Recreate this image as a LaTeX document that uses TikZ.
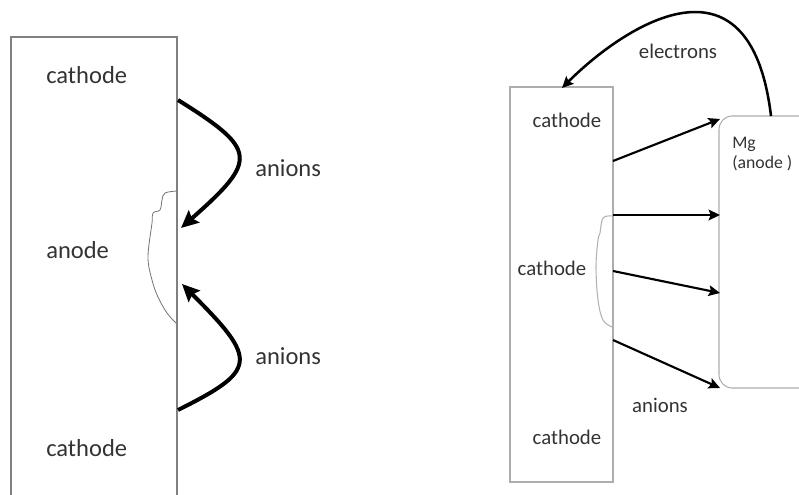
\documentclass[tikz,border=0pt]{standalone}
\usepackage{fontspec}
\setmainfont{Carlito}
\usetikzlibrary{arrows.meta}
\definecolor{txt}{HTML}{333333}
\tikzset{
  lbl/.style={text=txt, inner sep=0pt},
  big/.style={lbl, font=\fontsize{18.4}{22}\selectfont},
  small/.style={lbl, font=\fontsize{15.6}{19}\selectfont},
  tiny/.style={lbl, font=\fontsize{13.3}{16}\selectfont, align=left},
  thickarrow/.style={line width=3pt, -{Stealth[length=13pt, width=12pt, inset=2pt]}},
  thinarrow/.style={line width=1.6pt, -{Stealth[length=8.5pt, width=8pt, inset=1.5pt]}},
  wall/.style={draw=black!50, line width=0.8pt},
  lightwall/.style={draw=black!32, line width=0.8pt},
  pit/.style={draw=black!55, line width=0.6pt},
  lightpit/.style={draw=black!30, line width=0.8pt},
}
\begin{document}
\begin{tikzpicture}[x=0.75pt, y=-0.75pt]
\useasboundingbox (0,0) rectangle (799,495);

% ---- left: single electrode with a pit ----
\draw[wall] (11,495) -- (11,37) -- (177,37) -- (177,495);
\draw[pit] plot[smooth, tension=0.6] coordinates {
  (177,191) (165,193) (162,200) (160,210) (153,213) (152,223)
  (148,257) (152,280) (158,297) (167,313) (176,323)};

\node[big, anchor=west] (c1) at (46,75) {cathode};
\node[big, anchor=west] (an) at (46,250) {anode};
\node[big, anchor=west] (c2) at (46,448) {cathode};
\node[big, anchor=west] (i1) at (255,168) {anions};
\node[big, anchor=west] (i2) at (255,356) {anions};

\coordinate (a1s) at (178,100);
\coordinate (a1e) at (181,228);
\coordinate (a2s) at (178,410);
\coordinate (a2e) at (182,284);
\draw[thickarrow] (a1s) .. controls (258,150) and (258,160) .. (a1e);
\draw[thickarrow] (a2s) .. controls (258,370) and (258,360) .. (a2e);

% ---- right: cathode bar and Mg anode ----
\draw[lightwall] (510,87) rectangle (613,482);
\draw[lightpit] plot[smooth, tension=0.6] coordinates {
  (612,216) (603,218) (600,233) (598,240) (596,267) (598,300) (603,320) (612,327)};
\draw[lightwall, rounded corners=10pt] (805,116) -- (719,116) -- (719,388) -- (805,388);

\node[small] (r1) at (567,120) {cathode};
\node[small] (r2) at (552,268) {cathode};
\node[small] (r3) at (567,437) {cathode};
\node[tiny, anchor=north west] (mg) at (732,137) {Mg\\[-1pt](anode )};
\node[small] (el) at (678,51) {electrons};
\node[small] (ri) at (660,405) {anions};

\coordinate (s1) at (613,161);
\coordinate (s2) at (613,215);
\coordinate (s3) at (613,271);
\coordinate (s4) at (613,340);
\coordinate (e1) at (720,119);
\coordinate (e2) at (720,215);
\coordinate (e3) at (720,293);
\coordinate (e4) at (720,388);
\draw[thinarrow] (s1) -- (e1);
\draw[thinarrow] (s2) -- (e2);
\draw[thinarrow] (s3) -- (e3);
\draw[thinarrow] (s4) -- (e4);

\coordinate (ms) at (771,116);
\coordinate (me) at (562,88);
\draw[thinarrow, line width=1.9pt] (ms) .. controls (750,-59) and (622,28) .. (me);
\end{tikzpicture}
\end{document}
